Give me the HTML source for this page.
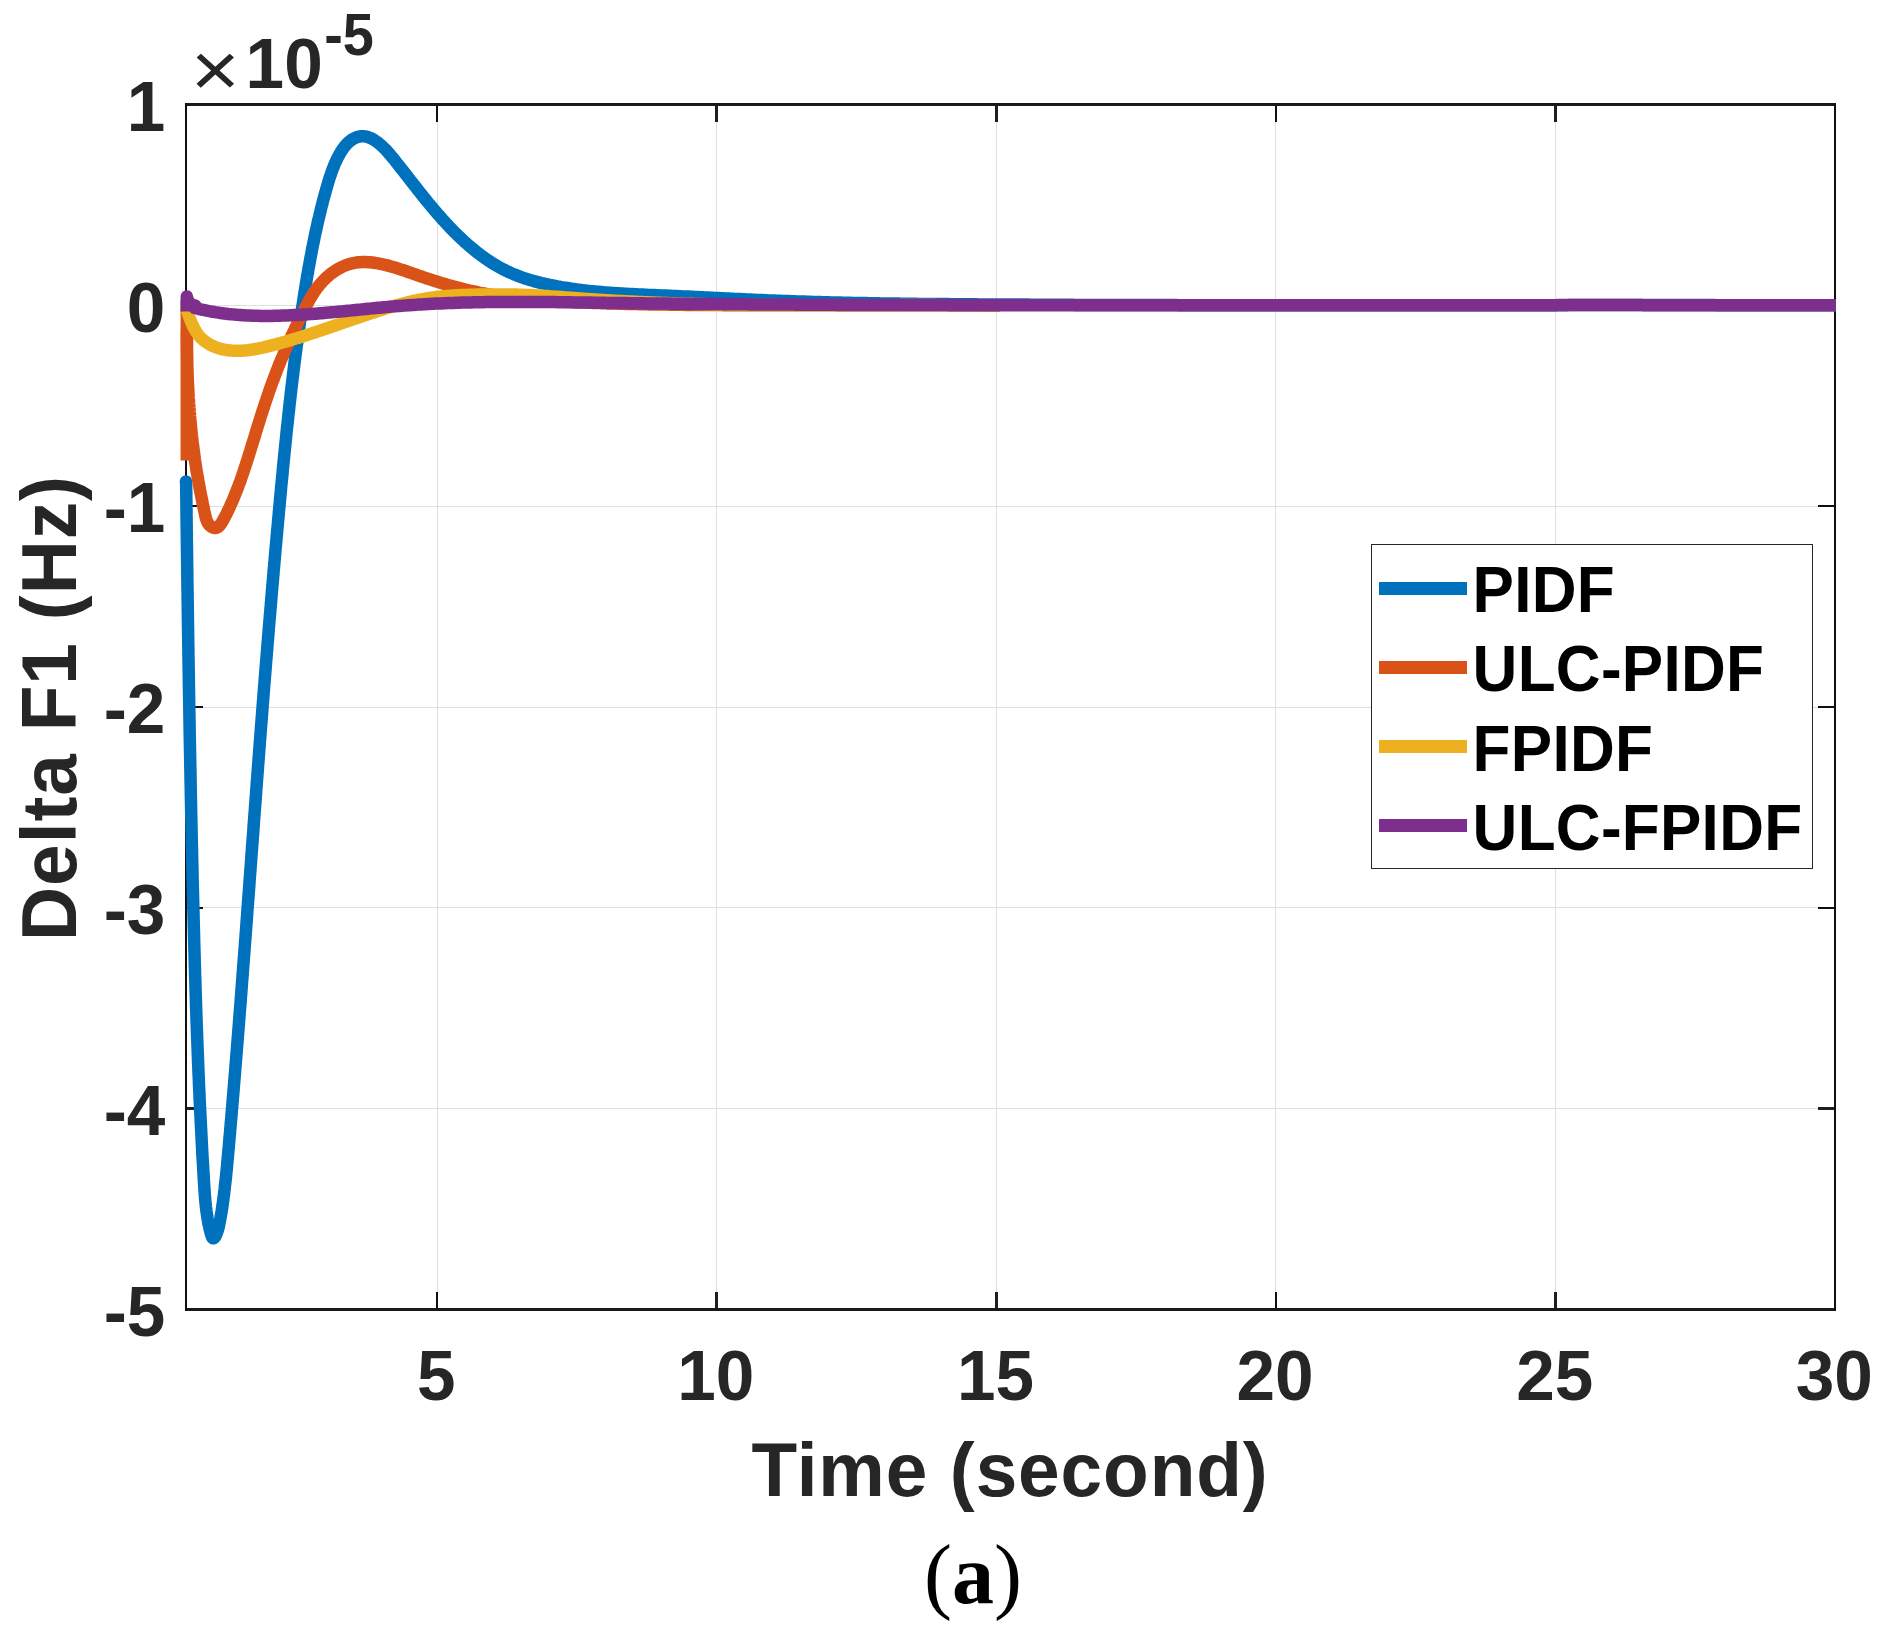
<!DOCTYPE html>
<html><head><meta charset="utf-8"><title>Delta F1</title>
<style>html,body{margin:0;padding:0;background:#fff}svg{display:block}</style></head>
<body>
<svg width="1892" height="1647" viewBox="0 0 1892 1647">
<rect width="1892" height="1647" fill="#fff"/>
<g fill="#dfdfdf" shape-rendering="crispEdges"><rect x="437" y="106" width="1" height="1202"/><rect x="716" y="106" width="1" height="1202"/><rect x="996" y="106" width="1" height="1202"/><rect x="1275" y="106" width="1" height="1202"/><rect x="1555" y="106" width="1" height="1202"/><rect x="187" y="305" width="1647" height="1"/><rect x="187" y="506" width="1647" height="1"/><rect x="187" y="707" width="1647" height="1"/><rect x="187" y="907" width="1647" height="1"/><rect x="187" y="1108" width="1647" height="1"/></g>
<g shape-rendering="crispEdges"><rect x="185" y="103" width="1651" height="3" fill="#1a1a1a"/><rect x="185" y="1308" width="1651" height="3" fill="#1a1a1a"/><rect x="185" y="103" width="2" height="1208" fill="#101010"/><rect x="1834" y="103" width="2" height="1208" fill="#101010"/></g>
<g shape-rendering="crispEdges"><rect x="436" y="1292" width="2" height="16" fill="#101010"/><rect x="436" y="106" width="2" height="16" fill="#101010"/><rect x="715" y="1292" width="3" height="16" fill="#1f1f1f"/><rect x="715" y="106" width="3" height="16" fill="#1f1f1f"/><rect x="995" y="1292" width="3" height="16" fill="#1f1f1f"/><rect x="995" y="106" width="3" height="16" fill="#1f1f1f"/><rect x="1275" y="1292" width="2" height="16" fill="#101010"/><rect x="1275" y="106" width="2" height="16" fill="#101010"/><rect x="1554" y="1292" width="3" height="16" fill="#1f1f1f"/><rect x="1554" y="106" width="3" height="16" fill="#1f1f1f"/><rect x="187" y="304" width="16" height="3" fill="#1f1f1f"/><rect x="1818" y="304" width="16" height="3" fill="#1f1f1f"/><rect x="187" y="505" width="16" height="2" fill="#101010"/><rect x="1818" y="505" width="16" height="2" fill="#101010"/><rect x="187" y="706" width="16" height="2" fill="#101010"/><rect x="1818" y="706" width="16" height="2" fill="#101010"/><rect x="187" y="907" width="16" height="2" fill="#101010"/><rect x="1818" y="907" width="16" height="2" fill="#101010"/><rect x="187" y="1107" width="16" height="3" fill="#1f1f1f"/><rect x="1818" y="1107" width="16" height="3" fill="#1f1f1f"/></g>
<path d="M186.1,481.0 L186.1,483.0 L186.2,485.0 L186.2,487.0 L186.2,489.0 L186.2,491.0 L186.3,493.0 L186.3,495.0 L186.3,497.0 L186.3,499.0 L186.4,501.0 L186.4,503.0 L186.4,505.0 L186.4,507.0 L186.5,509.0 L186.5,511.0 L186.5,513.0 L186.5,515.0 L186.6,517.0 L186.6,519.0 L186.6,521.0 L186.6,523.0 L186.7,525.0 L186.7,527.0 L186.7,529.0 L186.7,531.0 L186.8,533.0 L186.8,535.0 L186.8,537.0 L186.8,539.0 L186.9,541.0 L186.9,543.0 L186.9,545.0 L186.9,547.0 L187.0,549.0 L187.0,551.0 L187.0,553.0 L187.1,555.0 L187.1,557.0 L187.1,559.0 L187.1,561.0 L187.2,563.0 L187.2,565.0 L187.2,567.0 L187.2,569.0 L187.3,571.0 L187.3,573.0 L187.3,575.0 L187.3,577.0 L187.4,579.0 L187.4,581.0 L187.4,583.0 L187.4,585.0 L187.5,587.0 L187.5,589.0 L187.5,591.0 L187.6,593.0 L187.6,595.0 L187.6,597.0 L187.6,599.0 L187.7,601.0 L187.7,603.0 L187.7,605.0 L187.8,607.0 L187.8,609.0 L187.8,611.0 L187.8,613.0 L187.9,615.0 L187.9,617.0 L187.9,619.0 L187.9,621.0 L188.0,623.0 L188.0,625.0 L188.0,627.0 L188.1,629.0 L188.1,631.0 L188.1,633.0 L188.2,635.0 L188.2,637.0 L188.2,639.0 L188.2,641.0 L188.3,643.0 L188.3,645.0 L188.3,647.0 L188.4,649.0 L188.4,651.0 L188.4,653.0 L188.4,655.0 L188.5,657.0 L188.5,659.0 L188.5,661.0 L188.6,663.0 L188.6,665.0 L188.6,667.0 L188.7,669.0 L188.7,671.0 L188.7,673.0 L188.8,675.0 L188.8,677.0 L188.8,679.0 L188.8,681.0 L188.9,683.0 L188.9,685.0 L188.9,687.0 L189.0,689.0 L189.0,691.0 L189.0,693.0 L189.1,695.0 L189.1,697.0 L189.1,699.0 L189.2,701.0 L189.2,703.0 L189.2,705.0 L189.3,707.0 L189.3,709.0 L189.3,711.0 L189.4,713.0 L189.4,715.0 L189.4,717.0 L189.5,719.0 L189.5,721.0 L189.5,723.0 L189.6,725.0 L189.6,727.0 L189.6,729.0 L189.7,731.0 L189.7,733.0 L189.7,735.0 L189.8,737.0 L189.8,739.0 L189.8,741.0 L189.9,743.0 L189.9,745.0 L190.0,747.0 L190.0,749.0 L190.0,751.0 L190.1,753.0 L190.1,755.0 L190.1,757.0 L190.2,759.0 L190.2,761.0 L190.2,763.0 L190.3,765.0 L190.3,767.0 L190.4,769.0 L190.4,771.0 L190.4,773.0 L190.5,775.0 L190.5,777.0 L190.5,779.0 L190.6,781.0 L190.6,783.0 L190.7,785.0 L190.7,787.0 L190.7,789.0 L190.8,791.0 L190.8,793.0 L190.8,795.0 L190.9,797.0 L190.9,799.0 L191.0,801.0 L191.0,803.0 L191.0,805.0 L191.1,807.0 L191.1,809.0 L191.2,811.0 L191.2,813.0 L191.2,815.0 L191.3,817.0 L191.3,818.9 L191.4,820.9 L191.4,822.9 L191.5,824.9 L191.5,826.9 L191.5,828.9 L191.6,830.9 L191.6,832.9 L191.7,834.9 L191.7,836.9 L191.7,838.9 L191.8,840.9 L191.8,842.9 L191.9,844.9 L191.9,846.9 L192.0,848.9 L192.0,850.9 L192.1,852.9 L192.1,854.9 L192.1,856.9 L192.2,858.9 L192.2,860.9 L192.3,862.9 L192.3,864.9 L192.4,866.9 L192.4,868.9 L192.5,870.9 L192.5,872.9 L192.5,874.9 L192.6,876.9 L192.6,878.9 L192.7,880.9 L192.7,882.9 L192.8,884.9 L192.8,886.9 L192.9,888.9 L192.9,890.9 L193.0,892.9 L193.0,894.9 L193.1,896.9 L193.1,898.9 L193.2,900.9 L193.2,902.9 L193.3,904.9 L193.3,906.9 L193.4,908.9 L193.4,910.9 L193.5,912.9 L193.5,914.9 L193.6,916.9 L193.6,918.9 L193.7,920.9 L193.7,922.9 L193.8,924.9 L193.8,926.9 L193.9,928.9 L193.9,930.9 L194.0,932.9 L194.0,934.9 L194.1,936.9 L194.1,938.9 L194.2,940.9 L194.2,942.9 L194.3,944.9 L194.3,946.9 L194.4,948.9 L194.4,950.9 L194.5,952.9 L194.6,954.9 L194.6,956.9 L194.7,958.9 L194.7,960.9 L194.8,962.9 L194.8,964.9 L194.9,966.9 L195.0,968.9 L195.0,970.9 L195.1,972.9 L195.1,974.9 L195.2,976.9 L195.2,978.9 L195.3,980.9 L195.4,982.9 L195.4,984.9 L195.5,986.9 L195.5,988.9 L195.6,990.9 L195.7,992.9 L195.7,994.9 L195.8,996.9 L195.9,998.9 L195.9,1000.9 L196.0,1002.9 L196.0,1004.9 L196.1,1006.9 L196.2,1008.9 L196.2,1010.9 L196.3,1012.9 L196.4,1014.9 L196.4,1016.9 L196.5,1018.9 L196.6,1020.9 L196.6,1022.9 L196.7,1024.9 L196.8,1026.9 L196.9,1028.9 L196.9,1030.9 L197.0,1032.9 L197.1,1034.9 L197.1,1036.9 L197.2,1038.9 L197.3,1040.9 L197.4,1042.9 L197.4,1044.9 L197.5,1046.9 L197.6,1048.9 L197.7,1050.9 L197.7,1052.9 L197.8,1054.9 L197.9,1056.9 L198.0,1058.9 L198.0,1060.9 L198.1,1062.9 L198.2,1064.9 L198.3,1066.9 L198.4,1068.9 L198.4,1070.9 L198.5,1072.8 L198.6,1074.8 L198.7,1076.8 L198.8,1078.8 L198.9,1080.8 L198.9,1082.8 L199.0,1084.8 L199.1,1086.8 L199.2,1088.8 L199.3,1090.8 L199.4,1092.8 L199.5,1094.8 L199.5,1096.8 L199.6,1098.8 L199.7,1100.8 L199.8,1102.8 L199.9,1104.8 L200.0,1106.8 L200.1,1108.8 L200.2,1110.8 L200.3,1112.8 L200.4,1114.8 L200.5,1116.8 L200.6,1118.8 L200.7,1120.8 L200.8,1122.8 L200.9,1124.8 L201.0,1126.8 L201.1,1128.8 L201.2,1130.8 L201.3,1132.8 L201.4,1134.8 L201.5,1136.8 L201.6,1138.8 L201.7,1140.7 L201.8,1142.7 L201.9,1144.7 L202.0,1146.7 L202.1,1148.7 L202.2,1150.7 L202.3,1152.7 L202.4,1154.7 L202.5,1156.7 L202.6,1158.7 L202.8,1160.7 L202.9,1162.7 L203.0,1164.7 L203.1,1166.7 L203.2,1168.7 L203.3,1170.7 L203.4,1172.7 L203.6,1174.7 L203.7,1176.7 L203.8,1178.7 L203.9,1180.7 L204.0,1182.7 L204.2,1184.7 L204.3,1186.7 L204.4,1188.7 L204.5,1190.7 L204.7,1192.7 L204.8,1194.7 L205.0,1196.7 L205.1,1198.7 L205.3,1200.7 L205.5,1202.7 L205.7,1204.7 L205.9,1206.7 L206.2,1208.7 L206.4,1210.7 L206.7,1212.7 L207.0,1214.7 L207.3,1216.7 L207.6,1218.7 L208.0,1220.7 L208.3,1222.7 L208.7,1224.7 L209.2,1226.7 L209.6,1228.7 L210.1,1230.7 L210.6,1232.7 L211.2,1234.6 L211.7,1236.4 L212.4,1237.6 L213.1,1238.3 L214.0,1238.1 L214.8,1237.2 L215.7,1235.7 L216.5,1234.0 L217.2,1232.1 L217.9,1230.0 L218.5,1227.9 L219.0,1225.8 L219.4,1223.6 L219.8,1221.4 L220.3,1219.2 L220.6,1217.1 L221.0,1215.0 L221.3,1213.0 L221.7,1211.0 L222.0,1209.0 L222.3,1207.0 L222.6,1205.0 L222.8,1203.0 L223.1,1201.1 L223.4,1199.1 L223.6,1197.2 L223.9,1195.2 L224.1,1193.3 L224.3,1191.3 L224.6,1189.4 L224.8,1187.4 L225.0,1185.4 L225.2,1183.5 L225.5,1181.5 L225.7,1179.5 L225.9,1177.6 L226.1,1175.6 L226.3,1173.6 L226.5,1171.6 L226.7,1169.6 L226.9,1167.6 L227.1,1165.7 L227.2,1163.7 L227.4,1161.7 L227.6,1159.7 L227.8,1157.7 L228.0,1155.7 L228.1,1153.7 L228.3,1151.7 L228.5,1149.7 L228.7,1147.7 L228.9,1145.7 L229.0,1143.7 L229.2,1141.7 L229.4,1139.7 L229.5,1137.7 L229.7,1135.8 L229.9,1133.8 L230.1,1131.8 L230.2,1129.8 L230.4,1127.8 L230.6,1125.8 L230.7,1123.8 L230.9,1121.8 L231.1,1119.8 L231.3,1117.8 L231.4,1115.8 L231.6,1113.8 L231.8,1111.8 L231.9,1109.8 L232.1,1107.8 L232.3,1105.8 L232.4,1103.8 L232.6,1101.8 L232.8,1099.8 L232.9,1097.9 L233.1,1095.9 L233.3,1093.9 L233.4,1091.9 L233.6,1089.9 L233.8,1087.9 L233.9,1085.9 L234.1,1083.9 L234.2,1081.9 L234.4,1079.9 L234.6,1077.9 L234.7,1075.9 L234.9,1073.9 L235.1,1071.9 L235.2,1069.9 L235.4,1067.9 L235.5,1065.9 L235.7,1063.9 L235.9,1062.0 L236.0,1060.0 L236.2,1058.0 L236.3,1056.0 L236.5,1054.0 L236.7,1052.0 L236.8,1050.0 L237.0,1048.0 L237.1,1046.0 L237.3,1044.0 L237.5,1042.0 L237.6,1040.0 L237.8,1038.0 L237.9,1036.0 L238.1,1034.0 L238.2,1032.0 L238.4,1030.0 L238.6,1028.0 L238.7,1026.1 L238.9,1024.1 L239.0,1022.1 L239.2,1020.1 L239.3,1018.1 L239.5,1016.1 L239.6,1014.1 L239.8,1012.1 L239.9,1010.1 L240.1,1008.1 L240.3,1006.1 L240.4,1004.1 L240.6,1002.1 L240.7,1000.1 L240.9,998.1 L241.0,996.1 L241.2,994.1 L241.3,992.1 L241.5,990.2 L241.6,988.2 L241.8,986.2 L241.9,984.2 L242.1,982.2 L242.2,980.2 L242.4,978.2 L242.5,976.2 L242.7,974.2 L242.8,972.2 L243.0,970.2 L243.1,968.2 L243.3,966.2 L243.4,964.2 L243.6,962.2 L243.7,960.2 L243.9,958.2 L244.0,956.2 L244.2,954.3 L244.3,952.3 L244.5,950.3 L244.6,948.3 L244.8,946.3 L244.9,944.3 L245.1,942.3 L245.2,940.3 L245.4,938.3 L245.5,936.3 L245.7,934.3 L245.8,932.3 L246.0,930.3 L246.1,928.3 L246.3,926.3 L246.4,924.3 L246.6,922.3 L246.7,920.4 L246.9,918.4 L247.0,916.4 L247.2,914.4 L247.3,912.4 L247.4,910.4 L247.6,908.4 L247.7,906.4 L247.9,904.4 L248.0,902.4 L248.2,900.4 L248.3,898.4 L248.5,896.4 L248.6,894.4 L248.8,892.4 L248.9,890.4 L249.1,888.4 L249.2,886.5 L249.4,884.5 L249.5,882.5 L249.6,880.5 L249.8,878.5 L249.9,876.5 L250.1,874.5 L250.2,872.5 L250.4,870.5 L250.5,868.5 L250.7,866.5 L250.8,864.5 L251.0,862.5 L251.1,860.5 L251.3,858.5 L251.4,856.5 L251.5,854.5 L251.7,852.6 L251.8,850.6 L252.0,848.6 L252.1,846.6 L252.3,844.6 L252.4,842.6 L252.6,840.6 L252.7,838.6 L252.9,836.6 L253.0,834.6 L253.2,832.6 L253.3,830.6 L253.5,828.6 L253.6,826.6 L253.7,824.6 L253.9,822.6 L254.0,820.6 L254.2,818.7 L254.3,816.7 L254.5,814.7 L254.6,812.7 L254.8,810.7 L254.9,808.7 L255.1,806.7 L255.2,804.7 L255.4,802.7 L255.5,800.7 L255.7,798.7 L255.8,796.7 L256.0,794.7 L256.1,792.7 L256.2,790.7 L256.4,788.7 L256.5,786.7 L256.7,784.8 L256.8,782.8 L257.0,780.8 L257.1,778.8 L257.3,776.8 L257.4,774.8 L257.6,772.8 L257.7,770.8 L257.9,768.8 L258.0,766.8 L258.2,764.8 L258.3,762.8 L258.5,760.8 L258.6,758.8 L258.8,756.8 L258.9,754.8 L259.1,752.8 L259.2,750.9 L259.4,748.9 L259.5,746.9 L259.7,744.9 L259.8,742.9 L260.0,740.9 L260.1,738.9 L260.3,736.9 L260.4,734.9 L260.6,732.9 L260.7,730.9 L260.9,728.9 L261.0,726.9 L261.2,724.9 L261.4,722.9 L261.5,720.9 L261.7,718.9 L261.8,716.9 L262.0,715.0 L262.1,713.0 L262.3,711.0 L262.4,709.0 L262.6,707.0 L262.7,705.0 L262.9,703.0 L263.0,701.0 L263.2,699.0 L263.4,697.0 L263.5,695.0 L263.7,693.0 L263.8,691.0 L264.0,689.0 L264.1,687.0 L264.3,685.0 L264.5,683.0 L264.6,681.0 L264.8,679.1 L264.9,677.1 L265.1,675.1 L265.2,673.1 L265.4,671.1 L265.6,669.1 L265.7,667.1 L265.9,665.1 L266.0,663.1 L266.2,661.1 L266.4,659.1 L266.5,657.1 L266.7,655.1 L266.8,653.1 L267.0,651.1 L267.2,649.1 L267.3,647.1 L267.5,645.2 L267.6,643.2 L267.8,641.2 L268.0,639.2 L268.1,637.2 L268.3,635.2 L268.5,633.2 L268.6,631.2 L268.8,629.2 L268.9,627.2 L269.1,625.2 L269.3,623.2 L269.4,621.2 L269.6,619.2 L269.8,617.2 L269.9,615.2 L270.1,613.3 L270.3,611.3 L270.4,609.3 L270.6,607.3 L270.8,605.3 L270.9,603.3 L271.1,601.3 L271.3,599.3 L271.4,597.3 L271.6,595.3 L271.8,593.3 L271.9,591.3 L272.1,589.3 L272.3,587.3 L272.4,585.3 L272.6,583.3 L272.8,581.4 L273.0,579.4 L273.1,577.4 L273.3,575.4 L273.5,573.4 L273.6,571.4 L273.8,569.4 L274.0,567.4 L274.2,565.4 L274.3,563.4 L274.5,561.4 L274.7,559.4 L274.8,557.4 L275.0,555.4 L275.2,553.5 L275.4,551.5 L275.5,549.5 L275.7,547.5 L275.9,545.5 L276.1,543.5 L276.3,541.5 L276.4,539.5 L276.6,537.5 L276.8,535.5 L277.0,533.5 L277.1,531.5 L277.3,529.5 L277.5,527.6 L277.7,525.6 L277.9,523.6 L278.0,521.6 L278.2,519.6 L278.4,517.6 L278.6,515.6 L278.8,513.6 L278.9,511.6 L279.1,509.6 L279.3,507.6 L279.5,505.7 L279.7,503.7 L279.9,501.7 L280.0,499.7 L280.2,497.7 L280.4,495.7 L280.6,493.7 L280.8,491.7 L281.0,489.7 L281.1,487.7 L281.3,485.7 L281.5,483.8 L281.7,481.8 L281.9,479.8 L282.1,477.8 L282.3,475.8 L282.5,473.8 L282.7,471.8 L282.8,469.8 L283.0,467.8 L283.2,465.8 L283.4,463.9 L283.6,461.9 L283.8,459.9 L284.0,457.9 L284.2,455.9 L284.4,453.9 L284.6,451.9 L284.8,449.9 L285.0,447.9 L285.2,446.0 L285.4,444.0 L285.6,442.0 L285.8,440.0 L286.0,438.0 L286.2,436.0 L286.4,434.0 L286.6,432.0 L286.8,430.0 L287.0,428.1 L287.2,426.1 L287.5,424.1 L287.7,422.1 L287.9,420.1 L288.1,418.1 L288.3,416.1 L288.5,414.1 L288.7,412.2 L289.0,410.2 L289.2,408.2 L289.4,406.2 L289.6,404.2 L289.8,402.2 L290.1,400.2 L290.3,398.2 L290.5,396.3 L290.7,394.3 L291.0,392.3 L291.2,390.3 L291.4,388.3 L291.7,386.3 L291.9,384.3 L292.1,382.4 L292.4,380.4 L292.6,378.4 L292.9,376.4 L293.1,374.4 L293.3,372.4 L293.6,370.5 L293.8,368.5 L294.1,366.5 L294.3,364.5 L294.6,362.5 L294.8,360.5 L295.1,358.5 L295.3,356.6 L295.6,354.6 L295.8,352.6 L296.1,350.6 L296.4,348.6 L296.6,346.6 L296.9,344.7 L297.2,342.7 L297.4,340.7 L297.7,338.7 L298.0,336.7 L298.2,334.8 L298.5,332.8 L298.8,330.8 L299.1,328.8 L299.4,326.8 L299.6,324.8 L299.9,322.9 L300.2,320.9 L300.5,318.9 L300.8,316.9 L301.1,314.9 L301.4,313.0 L301.7,311.0 L302.0,309.0 L302.3,307.0 L302.6,305.0 L302.9,303.1 L303.2,301.1 L303.5,299.1 L303.8,297.1 L304.1,295.1 L304.4,293.2 L304.7,291.2 L305.1,289.2 L305.4,287.2 L305.7,285.3 L306.0,283.3 L306.4,281.3 L306.7,279.3 L307.0,277.3 L307.4,275.4 L307.7,273.4 L308.1,271.4 L308.4,269.4 L308.7,267.5 L309.1,265.5 L309.5,263.5 L309.8,261.6 L310.2,259.6 L310.5,257.6 L310.9,255.7 L311.3,253.7 L311.7,251.7 L312.0,249.8 L312.4,247.8 L312.8,245.8 L313.2,243.9 L313.6,241.9 L314.0,239.9 L314.4,238.0 L314.8,236.0 L315.2,234.1 L315.6,232.1 L316.1,230.2 L316.5,228.2 L316.9,226.3 L317.4,224.3 L317.8,222.4 L318.2,220.4 L318.7,218.5 L319.2,216.6 L319.6,214.6 L320.1,212.7 L320.6,210.8 L321.0,208.8 L321.5,206.9 L322.0,205.0 L322.5,203.1 L323.0,201.1 L323.5,199.2 L324.0,197.3 L324.5,195.4 L325.1,193.5 L325.6,191.6 L326.1,189.6 L326.7,187.7 L327.2,185.8 L327.8,183.9 L328.3,182.0 L328.9,180.1 L329.5,178.2 L330.1,176.3 L330.8,174.5 L331.4,172.6 L332.1,170.7 L332.8,168.8 L333.6,166.9 L334.3,165.0 L335.1,163.1 L336.0,161.2 L336.9,159.3 L337.8,157.5 L338.8,155.6 L339.8,153.8 L340.8,152.0 L342.0,150.2 L343.1,148.5 L344.3,146.9 L345.6,145.4 L346.9,143.9 L348.3,142.5 L349.7,141.3 L351.2,140.1 L352.8,139.1 L354.4,138.2 L356.1,137.5 L357.8,136.9 L359.6,136.5 L361.4,136.3 L363.3,136.2 L365.1,136.4 L367.0,136.8 L368.9,137.4 L370.8,138.2 L372.6,139.1 L374.5,140.2 L376.3,141.5 L378.0,142.7 L379.6,144.0 L381.2,145.4 L382.7,146.8 L384.2,148.2 L385.6,149.6 L387.0,151.1 L388.3,152.6 L389.6,154.1 L390.9,155.6 L392.2,157.2 L393.4,158.7 L394.7,160.2 L395.9,161.8 L397.1,163.3 L398.4,164.9 L399.6,166.5 L400.8,168.0 L402.1,169.6 L403.3,171.2 L404.5,172.7 L405.7,174.3 L407.0,175.9 L408.2,177.4 L409.4,179.0 L410.6,180.6 L411.9,182.2 L413.1,183.7 L414.3,185.3 L415.6,186.9 L416.8,188.4 L418.0,190.0 L419.3,191.6 L420.5,193.1 L421.8,194.7 L423.0,196.3 L424.3,197.8 L425.5,199.4 L426.8,200.9 L428.0,202.5 L429.3,204.0 L430.6,205.6 L431.9,207.1 L433.2,208.6 L434.4,210.2 L435.7,211.7 L437.0,213.2 L438.4,214.7 L439.7,216.2 L441.0,217.7 L442.3,219.2 L443.7,220.7 L445.0,222.2 L446.4,223.6 L447.7,225.1 L449.1,226.6 L450.5,228.0 L451.9,229.4 L453.3,230.9 L454.7,232.3 L456.1,233.7 L457.5,235.1 L459.0,236.5 L460.4,237.9 L461.9,239.3 L463.4,240.6 L464.8,242.0 L466.3,243.3 L467.8,244.6 L469.4,246.0 L470.9,247.3 L472.4,248.6 L474.0,249.8 L475.6,251.1 L477.1,252.3 L478.7,253.6 L480.3,254.8 L481.9,256.0 L483.6,257.2 L485.2,258.3 L486.9,259.5 L488.5,260.6 L490.2,261.7 L491.9,262.8 L493.6,263.8 L495.3,264.9 L497.0,265.9 L498.7,266.9 L500.5,267.9 L502.2,268.8 L504.0,269.7 L505.8,270.6 L507.6,271.5 L509.4,272.3 L511.2,273.1 L513.0,273.9 L514.9,274.7 L516.7,275.4 L518.6,276.1 L520.5,276.8 L522.3,277.5 L524.2,278.2 L526.1,278.8 L528.0,279.4 L529.9,280.0 L531.8,280.5 L533.8,281.1 L535.7,281.6 L537.6,282.1 L539.6,282.6 L541.5,283.1 L543.5,283.5 L545.4,284.0 L547.4,284.4 L549.3,284.8 L551.3,285.2 L553.3,285.6 L555.3,286.0 L557.2,286.4 L559.2,286.7 L561.2,287.1 L563.1,287.4 L565.1,287.7 L567.1,288.0 L569.1,288.3 L571.0,288.6 L573.0,288.9 L575.0,289.2 L577.0,289.5 L579.0,289.7 L581.0,290.0 L582.9,290.2 L584.9,290.4 L586.9,290.7 L588.9,290.9 L590.9,291.1 L592.9,291.3 L594.9,291.5 L596.8,291.7 L598.8,291.8 L600.8,292.0 L602.8,292.2 L604.8,292.4 L606.8,292.5 L608.8,292.7 L610.8,292.8 L612.8,292.9 L614.8,293.1 L616.8,293.2 L618.8,293.3 L620.8,293.5 L622.8,293.6 L624.8,293.7 L626.8,293.8 L628.7,293.9 L630.7,294.0 L632.7,294.1 L634.7,294.2 L636.7,294.3 L638.7,294.4 L640.7,294.5 L642.7,294.6 L644.7,294.7 L646.7,294.8 L648.7,294.9 L650.7,295.0 L652.7,295.0 L654.7,295.1 L656.7,295.2 L658.7,295.3 L660.7,295.4 L662.7,295.5 L664.7,295.6 L666.7,295.6 L668.7,295.7 L670.7,295.8 L672.7,295.9 L674.7,296.0 L676.7,296.1 L678.7,296.2 L680.7,296.3 L682.7,296.4 L684.7,296.5 L686.7,296.6 L688.7,296.6 L690.7,296.7 L692.7,296.8 L694.7,296.9 L696.7,297.0 L698.7,297.1 L700.7,297.2 L702.7,297.3 L704.7,297.4 L706.7,297.5 L708.7,297.6 L710.7,297.7 L712.7,297.8 L714.7,297.9 L716.7,298.0 L718.7,298.1 L720.7,298.2 L722.7,298.3 L724.7,298.4 L726.7,298.5 L728.7,298.6 L730.7,298.7 L732.7,298.8 L734.7,298.9 L736.7,298.9 L738.7,299.0 L740.7,299.1 L742.7,299.2 L744.7,299.3 L746.7,299.4 L748.7,299.5 L750.7,299.6 L752.7,299.7 L754.7,299.8 L756.7,299.9 L758.7,299.9 L760.7,300.0 L762.7,300.1 L764.7,300.2 L766.6,300.3 L768.6,300.4 L770.6,300.4 L772.6,300.5 L774.6,300.6 L776.6,300.7 L778.6,300.8 L780.6,300.8 L782.6,300.9 L784.6,301.0 L786.6,301.0 L788.6,301.1 L790.6,301.2 L792.6,301.3 L794.6,301.3 L796.6,301.4 L798.6,301.5 L800.6,301.5 L802.6,301.6 L804.6,301.6 L806.6,301.7 L808.6,301.8 L810.6,301.8 L812.6,301.9 L814.6,301.9 L816.6,302.0 L818.6,302.1 L820.6,302.1 L822.6,302.2 L824.6,302.2 L826.6,302.3 L828.6,302.3 L830.6,302.4 L832.6,302.4 L834.6,302.5 L836.6,302.5 L838.6,302.6 L840.6,302.6 L842.6,302.7 L844.6,302.7 L846.6,302.7 L848.6,302.8 L850.6,302.8 L852.6,302.9 L854.6,302.9 L856.6,302.9 L858.6,303.0 L860.6,303.0 L862.6,303.1 L864.6,303.1 L866.6,303.1 L868.6,303.2 L870.6,303.2 L872.6,303.2 L874.6,303.3 L876.6,303.3 L878.6,303.3 L880.6,303.4 L882.6,303.4 L884.6,303.4 L886.6,303.5 L888.6,303.5 L890.6,303.5 L892.6,303.6 L894.6,303.6 L896.6,303.6 L898.6,303.6 L900.6,303.7 L902.6,303.7 L904.6,303.7 L906.6,303.7 L908.6,303.8 L910.6,303.8 L912.6,303.8 L914.6,303.8 L916.6,303.8 L918.6,303.9 L920.6,303.9 L922.6,303.9 L924.6,303.9 L926.6,304.0 L928.6,304.0 L930.6,304.0 L932.6,304.0 L934.6,304.0 L936.6,304.0 L938.6,304.1 L940.6,304.1 L942.6,304.1 L944.6,304.1 L946.6,304.1 L948.6,304.1 L950.6,304.2 L952.6,304.2 L954.6,304.2 L956.6,304.2 L958.6,304.2 L960.6,304.2 L962.6,304.3 L964.6,304.3 L966.6,304.3 L968.6,304.3 L970.6,304.3 L972.6,304.3 L974.6,304.3 L976.6,304.3 L978.6,304.4 L980.6,304.4 L982.6,304.4 L984.6,304.4 L986.6,304.4 L988.6,304.4 L990.6,304.4 L992.6,304.4 L994.6,304.5 L996.6,304.5 L998.6,304.5 L1000.6,304.5 L1002.6,304.5 L1004.6,304.5 L1006.6,304.5 L1008.6,304.5 L1010.6,304.5 L1012.6,304.6 L1014.6,304.6 L1016.6,304.6 L1018.6,304.6 L1020.6,304.6 L1022.6,304.6 L1024.6,304.6 L1026.6,304.6 L1028.6,304.6 L1030.6,304.7 L1032.6,304.7 L1034.6,304.7 L1036.6,304.7 L1038.6,304.7 L1040.6,304.7 L1042.6,304.7 L1044.6,304.7 L1046.6,304.7 L1048.6,304.7 L1050.6,304.7 L1052.6,304.8 L1054.6,304.8 L1056.6,304.8 L1058.6,304.8 L1060.6,304.8 L1062.6,304.8 L1064.6,304.8 L1066.6,304.8 L1068.6,304.8 L1070.6,304.8 L1072.6,304.8 L1074.6,304.9 L1076.6,304.9 L1078.6,304.9 L1080.6,304.9 L1082.6,304.9 L1084.6,304.9 L1086.6,304.9 L1088.6,304.9 L1090.6,304.9 L1092.6,304.9 L1094.6,304.9 L1096.6,304.9 L1098.6,304.9 L1100.6,304.9 L1102.6,305.0 L1104.6,305.0 L1106.6,305.0 L1108.6,305.0 L1110.6,305.0 L1112.6,305.0 L1114.6,305.0 L1116.6,305.0 L1118.6,305.0 L1120.6,305.0 L1122.6,305.0 L1124.6,305.0 L1126.6,305.0 L1128.6,305.0 L1130.6,305.0 L1132.6,305.0 L1134.6,305.0 L1136.6,305.1 L1138.6,305.1 L1140.6,305.1 L1142.6,305.1 L1144.6,305.1 L1146.6,305.1 L1148.6,305.1 L1150.6,305.1 L1152.6,305.1 L1154.6,305.1 L1156.6,305.1 L1158.6,305.1 L1160.6,305.1 L1162.6,305.1 L1164.6,305.1 L1166.6,305.1 L1168.6,305.1 L1170.6,305.1 L1172.6,305.1 L1174.6,305.1 L1176.6,305.1 L1178.6,305.2 L1180.6,305.2 L1182.6,305.2 L1184.6,305.2 L1186.6,305.2 L1188.6,305.2 L1190.6,305.2 L1192.6,305.2 L1194.6,305.2 L1196.6,305.2 L1198.6,305.2 L1200.6,305.2 L1202.6,305.2 L1204.6,305.2 L1206.6,305.2 L1208.6,305.2 L1210.6,305.2 L1212.6,305.2 L1214.6,305.2 L1216.6,305.2 L1218.6,305.2 L1220.6,305.2 L1222.6,305.2 L1224.6,305.2 L1226.6,305.2 L1228.6,305.2 L1230.6,305.2 L1232.6,305.2 L1234.6,305.2 L1236.6,305.2 L1238.6,305.2 L1240.6,305.2 L1242.6,305.2 L1244.6,305.2 L1246.6,305.2 L1248.6,305.2 L1250.6,305.2 L1252.6,305.2 L1254.6,305.3 L1256.6,305.3 L1258.6,305.3 L1260.6,305.3 L1262.6,305.3 L1264.6,305.3 L1266.6,305.3 L1268.6,305.3 L1270.6,305.3 L1272.6,305.3 L1274.6,305.3 L1276.6,305.3 L1278.6,305.3 L1280.6,305.3 L1282.6,305.3 L1284.6,305.3 L1286.6,305.3 L1288.6,305.3 L1290.6,305.3 L1292.6,305.3 L1294.6,305.3 L1296.6,305.3 L1298.6,305.3 L1300.6,305.3 L1302.6,305.3 L1304.6,305.3 L1306.6,305.3 L1308.6,305.3 L1310.6,305.3 L1312.6,305.3 L1314.6,305.3 L1316.6,305.3 L1318.6,305.3 L1320.6,305.3 L1322.6,305.3 L1324.6,305.3 L1326.6,305.3 L1328.6,305.3 L1330.6,305.3 L1332.6,305.3 L1334.6,305.3 L1336.6,305.3 L1338.6,305.3 L1340.6,305.3 L1342.6,305.3 L1344.6,305.3 L1346.6,305.3 L1348.6,305.3 L1350.6,305.3 L1352.6,305.3 L1354.6,305.3 L1356.6,305.3 L1358.6,305.3 L1360.6,305.3 L1362.6,305.3 L1364.6,305.3 L1366.6,305.3 L1368.6,305.3 L1370.6,305.3 L1372.6,305.3 L1374.6,305.3 L1376.6,305.3 L1378.6,305.3 L1380.6,305.3 L1382.6,305.3 L1384.6,305.3 L1386.6,305.3 L1388.6,305.3 L1390.6,305.3 L1392.6,305.3 L1394.6,305.3 L1396.6,305.3 L1398.6,305.3 L1400.6,305.3 L1402.6,305.3 L1404.6,305.3 L1406.6,305.3 L1408.6,305.3 L1410.6,305.3 L1412.6,305.2 L1414.6,305.2 L1416.6,305.2 L1418.6,305.2 L1420.6,305.2 L1422.6,305.2 L1424.6,305.2 L1426.6,305.2 L1428.6,305.2 L1430.6,305.2 L1432.6,305.2 L1434.6,305.2 L1436.6,305.2 L1438.6,305.2 L1440.6,305.2 L1442.6,305.2 L1444.6,305.2 L1446.6,305.2 L1448.6,305.2 L1450.6,305.2 L1452.6,305.2 L1454.6,305.2 L1456.6,305.2 L1458.6,305.2 L1460.6,305.2 L1462.6,305.2 L1464.6,305.2 L1466.6,305.2 L1468.6,305.2 L1470.6,305.2 L1472.6,305.2 L1474.6,305.2 L1476.6,305.2 L1478.6,305.2 L1480.6,305.2 L1482.6,305.2 L1484.6,305.2 L1486.6,305.2 L1488.6,305.2 L1490.6,305.2 L1492.6,305.2 L1494.6,305.2 L1496.6,305.2 L1498.6,305.2 L1500.6,305.2 L1502.6,305.2 L1504.6,305.2 L1506.6,305.2 L1508.6,305.2 L1510.6,305.2 L1512.6,305.2 L1514.6,305.2 L1516.6,305.2 L1518.6,305.2 L1520.6,305.2 L1522.6,305.2 L1524.6,305.2 L1526.6,305.2 L1528.6,305.2 L1530.6,305.2 L1532.6,305.2 L1534.6,305.2 L1536.6,305.2 L1538.6,305.2 L1540.6,305.2 L1542.6,305.2 L1544.6,305.2 L1546.6,305.2 L1548.6,305.2 L1550.6,305.2 L1552.6,305.2 L1554.6,305.2 L1556.6,305.2 L1558.6,305.2 L1560.6,305.2 L1562.6,305.2 L1564.6,305.2 L1566.6,305.2 L1568.6,305.1 L1570.6,305.1 L1572.6,305.1 L1574.6,305.1 L1576.6,305.1 L1578.6,305.1 L1580.6,305.1 L1582.6,305.1 L1584.6,305.1 L1586.6,305.1 L1588.6,305.1 L1590.6,305.1 L1592.6,305.1 L1594.6,305.1 L1596.6,305.1 L1598.6,305.1 L1600.6,305.1 L1602.6,305.1 L1604.6,305.1 L1606.6,305.1 L1608.6,305.1 L1610.6,305.1 L1612.6,305.1 L1614.6,305.1 L1616.6,305.1 L1618.6,305.1 L1620.6,305.1 L1622.6,305.1 L1624.6,305.1 L1626.6,305.1 L1628.6,305.1 L1630.6,305.1 L1632.6,305.1 L1634.6,305.1 L1636.6,305.1 L1638.6,305.1 L1640.6,305.1 L1642.6,305.1 L1644.6,305.1 L1646.6,305.1 L1648.6,305.1 L1650.6,305.1 L1652.6,305.1 L1654.6,305.1 L1656.6,305.1 L1658.6,305.1 L1660.6,305.1 L1662.6,305.1 L1664.6,305.1 L1666.6,305.1 L1668.6,305.1 L1670.6,305.1 L1672.6,305.1 L1674.6,305.1 L1676.6,305.1 L1678.6,305.1 L1680.6,305.1 L1682.6,305.1 L1684.6,305.1 L1686.6,305.1 L1688.6,305.1 L1690.6,305.1 L1692.6,305.1 L1694.6,305.1 L1696.6,305.1 L1698.6,305.1 L1700.6,305.1 L1702.6,305.1 L1704.6,305.1 L1706.6,305.1 L1708.6,305.1 L1710.6,305.1 L1712.6,305.1 L1714.6,305.1 L1716.6,305.2 L1718.6,305.2 L1720.6,305.2 L1722.6,305.2 L1724.6,305.2 L1726.6,305.2 L1728.6,305.2 L1730.6,305.2 L1732.6,305.2 L1734.6,305.2 L1736.6,305.2 L1738.6,305.2 L1740.6,305.2 L1742.6,305.2 L1744.6,305.2 L1746.6,305.2 L1748.6,305.2 L1750.6,305.2 L1752.6,305.2 L1754.6,305.2 L1756.6,305.2 L1758.6,305.2 L1760.6,305.2 L1762.6,305.2 L1764.6,305.2 L1766.6,305.2 L1768.6,305.2 L1770.6,305.2 L1772.6,305.2 L1774.6,305.2 L1776.6,305.2 L1778.6,305.2 L1780.6,305.2 L1782.6,305.2 L1784.6,305.2 L1786.6,305.2 L1788.6,305.2 L1790.6,305.2 L1792.6,305.2 L1794.6,305.3 L1796.6,305.3 L1798.6,305.3 L1800.6,305.3 L1802.6,305.3 L1804.6,305.3 L1806.6,305.3 L1808.6,305.3 L1810.6,305.3 L1812.6,305.3 L1814.6,305.3 L1816.6,305.3 L1818.6,305.3 L1820.6,305.3 L1822.6,305.3 L1824.6,305.3 L1826.6,305.3 L1828.6,305.3 L1830.6,305.3 L1832.6,305.3 L1834.6,305.3 L1836.0,305.3" stroke="#0072BD" stroke-width="12.5" fill="none" stroke-linejoin="round" />
<circle cx="186" cy="481.5" r="6.25" fill="#0072BD"/>
<path d="M186.8,300.0 L186.8,460.4" stroke="#D95319" stroke-width="12.5" fill="none" stroke-linejoin="round" />
<path d="M187.0,330.1 L187.0,332.1 L187.0,334.0 L186.9,336.0 L186.9,338.0 L187.0,340.0 L187.0,342.0 L187.0,344.0 L187.0,346.0 L187.0,348.0 L187.0,350.0 L187.1,352.0 L187.1,354.0 L187.1,356.0 L187.2,358.0 L187.2,360.0 L187.2,362.0 L187.3,364.0 L187.3,366.0 L187.4,368.0 L187.5,370.0 L187.5,372.0 L187.6,374.0 L187.7,376.0 L187.7,378.0 L187.8,380.0 L187.9,382.0 L188.0,384.0 L188.1,386.0 L188.2,388.0 L188.3,390.0 L188.4,392.0 L188.5,394.0 L188.6,396.0 L188.7,398.0 L188.9,400.0 L189.0,402.0 L189.1,404.0 L189.3,406.0 L189.4,408.0 L189.6,410.0 L189.7,412.0 L189.9,414.0 L190.0,416.0 L190.2,418.0 L190.4,420.0 L190.6,422.0 L190.7,423.9 L190.9,425.9 L191.1,427.9 L191.3,429.9 L191.5,431.9 L191.7,433.9 L191.9,435.9 L192.2,437.9 L192.4,439.9 L192.6,441.9 L192.9,443.8 L193.1,445.8 L193.3,447.8 L193.6,449.8 L193.9,451.8 L194.1,453.7 L194.4,455.7 L194.7,457.7 L194.9,459.7 L195.2,461.6 L195.5,463.6 L195.8,465.6 L196.1,467.5 L196.4,469.5 L196.7,471.5 L197.1,473.4 L197.4,475.4 L197.7,477.3 L198.1,479.3 L198.4,481.2 L198.8,483.2 L199.1,485.1 L199.5,487.1 L199.8,489.1 L200.2,491.0 L200.6,493.0 L201.0,495.0 L201.4,497.0 L201.8,498.9 L202.2,500.9 L202.6,503.0 L203.0,505.0 L203.5,507.0 L203.9,509.1 L204.3,511.1 L204.8,513.2 L205.2,515.3 L205.7,517.4 L206.3,519.4 L207.0,521.3 L207.9,523.0 L209.0,524.6 L210.4,525.9 L211.8,527.0 L213.4,527.7 L214.9,528.0 L216.4,527.8 L217.7,527.2 L219.0,526.2 L220.1,524.9 L221.3,523.4 L222.3,521.7 L223.3,519.9 L224.3,518.1 L225.3,516.2 L226.3,514.3 L227.2,512.4 L228.1,510.5 L229.0,508.6 L229.9,506.8 L230.7,504.9 L231.5,503.0 L232.4,501.1 L233.2,499.3 L234.0,497.4 L234.7,495.5 L235.5,493.6 L236.2,491.7 L237.0,489.9 L237.7,488.0 L238.4,486.1 L239.1,484.2 L239.8,482.4 L240.5,480.5 L241.1,478.6 L241.8,476.7 L242.4,474.8 L243.1,473.0 L243.7,471.1 L244.3,469.2 L245.0,467.3 L245.6,465.4 L246.2,463.5 L246.8,461.7 L247.4,459.8 L248.0,457.9 L248.6,456.0 L249.2,454.1 L249.8,452.2 L250.4,450.3 L250.9,448.4 L251.5,446.5 L252.1,444.6 L252.7,442.7 L253.3,440.8 L253.9,438.9 L254.5,437.0 L255.1,435.1 L255.6,433.1 L256.2,431.2 L256.8,429.3 L257.4,427.4 L258.0,425.5 L258.6,423.6 L259.2,421.7 L259.8,419.8 L260.4,417.8 L261.0,415.9 L261.6,414.0 L262.2,412.1 L262.8,410.2 L263.5,408.3 L264.1,406.4 L264.7,404.5 L265.3,402.6 L266.0,400.7 L266.6,398.8 L267.3,396.9 L267.9,395.0 L268.6,393.1 L269.2,391.2 L269.9,389.3 L270.5,387.4 L271.2,385.5 L271.9,383.6 L272.6,381.7 L273.3,379.9 L274.0,378.0 L274.7,376.1 L275.4,374.2 L276.1,372.4 L276.8,370.5 L277.6,368.6 L278.3,366.8 L279.0,364.9 L279.8,363.1 L280.5,361.2 L281.3,359.4 L282.1,357.5 L282.9,355.7 L283.6,353.9 L284.4,352.0 L285.2,350.2 L286.0,348.3 L286.8,346.5 L287.6,344.7 L288.4,342.9 L289.3,341.0 L290.1,339.2 L290.9,337.4 L291.7,335.6 L292.6,333.8 L293.4,332.0 L294.3,330.2 L295.1,328.3 L296.0,326.5 L296.9,324.7 L297.7,322.9 L298.6,321.1 L299.5,319.3 L300.4,317.5 L301.3,315.7 L302.1,313.9 L303.0,312.1 L303.9,310.4 L304.9,308.6 L305.8,306.8 L306.7,305.0 L307.6,303.2 L308.6,301.5 L309.6,299.7 L310.6,298.0 L311.6,296.3 L312.6,294.6 L313.7,292.9 L314.8,291.2 L315.9,289.6 L317.1,288.0 L318.3,286.4 L319.6,284.9 L320.9,283.3 L322.2,281.8 L323.6,280.4 L325.0,278.9 L326.5,277.5 L328.0,276.2 L329.5,274.9 L331.1,273.6 L332.8,272.4 L334.4,271.3 L336.1,270.2 L337.8,269.1 L339.6,268.2 L341.4,267.2 L343.2,266.4 L345.0,265.6 L346.9,264.9 L348.7,264.3 L350.6,263.7 L352.5,263.3 L354.5,262.9 L356.4,262.5 L358.3,262.3 L360.3,262.2 L362.3,262.1 L364.3,262.0 L366.2,262.1 L368.2,262.2 L370.2,262.3 L372.2,262.5 L374.2,262.8 L376.2,263.1 L378.2,263.4 L380.2,263.8 L382.2,264.2 L384.2,264.7 L386.1,265.1 L388.1,265.6 L390.1,266.2 L392.0,266.7 L393.9,267.3 L395.8,267.8 L397.8,268.4 L399.7,269.1 L401.6,269.7 L403.5,270.3 L405.4,270.9 L407.2,271.6 L409.1,272.3 L411.0,272.9 L412.9,273.6 L414.8,274.2 L416.6,274.9 L418.5,275.6 L420.4,276.2 L422.3,276.9 L424.2,277.5 L426.1,278.2 L428.0,278.8 L429.9,279.4 L431.8,280.0 L433.7,280.6 L435.6,281.2 L437.5,281.8 L439.4,282.4 L441.3,283.0 L443.2,283.6 L445.1,284.1 L447.1,284.7 L449.0,285.2 L450.9,285.8 L452.8,286.3 L454.8,286.8 L456.7,287.3 L458.6,287.8 L460.6,288.3 L462.5,288.8 L464.5,289.3 L466.4,289.7 L468.3,290.2 L470.3,290.7 L472.2,291.1 L474.2,291.5 L476.2,291.9 L478.1,292.4 L480.1,292.8 L482.0,293.1 L484.0,293.5 L486.0,293.9 L487.9,294.3 L489.9,294.6 L491.9,294.9 L493.8,295.3 L495.8,295.6 L497.8,295.9 L499.8,296.2 L501.7,296.5 L503.7,296.8 L505.7,297.0 L507.7,297.3 L509.7,297.5 L511.6,297.8 L513.6,298.0 L515.6,298.2 L517.6,298.4 L519.6,298.6 L521.6,298.8 L523.6,299.0 L525.5,299.2 L527.5,299.4 L529.5,299.6 L531.5,299.7 L533.5,299.9 L535.5,300.0 L537.5,300.2 L539.5,300.3 L541.5,300.5 L543.5,300.6 L545.5,300.7 L547.5,300.8 L549.5,301.0 L551.5,301.1 L553.5,301.2 L555.5,301.3 L557.5,301.4 L559.5,301.5 L561.5,301.6 L563.5,301.7 L565.5,301.8 L567.5,301.9 L569.5,302.0 L571.5,302.1 L573.5,302.1 L575.5,302.2 L577.5,302.3 L579.5,302.4 L581.5,302.5 L583.5,302.5 L585.5,302.6 L587.5,302.7 L589.5,302.8 L591.5,302.8 L593.5,302.9 L595.5,303.0 L597.5,303.0 L599.5,303.1 L601.5,303.2 L603.5,303.2 L605.5,303.3 L607.5,303.4 L609.5,303.4 L611.5,303.5 L613.5,303.5 L615.5,303.6 L617.5,303.6 L619.5,303.7 L621.5,303.8 L623.5,303.8 L625.5,303.9 L627.5,303.9 L629.5,303.9 L631.5,304.0 L633.5,304.0 L635.5,304.1 L637.5,304.1 L639.5,304.2 L641.5,304.2 L643.5,304.2 L645.5,304.3 L647.5,304.3 L649.5,304.4 L651.5,304.4 L653.5,304.4 L655.5,304.5 L657.5,304.5 L659.5,304.5 L661.5,304.6 L663.5,304.6 L665.5,304.6 L667.5,304.6 L669.5,304.7 L671.5,304.7 L673.5,304.7 L675.5,304.7 L677.5,304.8 L679.5,304.8 L681.5,304.8 L683.5,304.8 L685.5,304.9 L687.5,304.9 L689.5,304.9 L691.5,304.9 L693.4,304.9 L695.4,305.0 L697.4,305.0 L699.4,305.0 L701.4,305.0 L703.4,305.0 L705.4,305.0 L707.4,305.1 L709.4,305.1 L711.4,305.1 L713.4,305.1 L715.4,305.1 L717.4,305.1 L719.4,305.1 L721.4,305.1 L723.4,305.2 L725.4,305.2 L727.4,305.2 L729.4,305.2 L731.4,305.2 L733.4,305.2 L735.4,305.2 L737.4,305.2 L739.4,305.2 L741.4,305.2 L743.4,305.3 L745.4,305.3 L747.4,305.3 L749.4,305.3 L751.4,305.3 L753.4,305.3 L755.4,305.3 L757.4,305.3 L759.4,305.3 L761.4,305.3 L763.4,305.3 L765.4,305.3 L767.4,305.3 L769.4,305.3 L771.4,305.3 L773.4,305.3 L775.4,305.3 L777.4,305.3 L779.4,305.3 L781.4,305.3 L783.4,305.3 L785.4,305.3 L787.4,305.3 L789.4,305.3 L791.4,305.3 L793.4,305.3 L795.4,305.3 L797.4,305.3 L799.4,305.3 L801.4,305.3 L803.4,305.3 L805.4,305.3 L807.4,305.3 L809.4,305.3 L811.4,305.3 L813.4,305.3 L815.4,305.3 L817.4,305.3 L819.4,305.3 L821.4,305.3 L823.4,305.3 L825.4,305.3 L827.4,305.3 L829.4,305.3 L831.4,305.3 L833.4,305.3 L835.4,305.3 L837.4,305.3 L839.4,305.3 L841.4,305.3 L843.4,305.3 L845.4,305.3 L847.4,305.3 L849.4,305.3 L851.4,305.3 L853.4,305.3 L855.4,305.3 L857.4,305.3 L859.4,305.3 L861.4,305.3 L863.4,305.3 L865.4,305.3 L867.4,305.3 L869.4,305.3 L871.4,305.3 L873.4,305.3 L875.4,305.3 L877.4,305.3 L879.4,305.3 L881.4,305.3 L883.4,305.3 L885.4,305.3 L887.4,305.2 L889.4,305.2 L891.4,305.2 L893.4,305.2 L895.4,305.2 L897.4,305.2 L899.4,305.2 L901.4,305.2 L903.4,305.2 L905.4,305.2 L907.4,305.2 L909.4,305.2 L911.4,305.2 L913.4,305.2 L915.4,305.2 L917.4,305.2 L919.4,305.2 L921.4,305.2 L923.4,305.2 L925.4,305.2 L927.4,305.2 L929.4,305.2 L931.4,305.2 L933.4,305.2 L935.4,305.2 L937.4,305.2 L939.4,305.2 L941.4,305.2 L943.4,305.2 L945.4,305.2 L947.4,305.2 L949.4,305.2 L951.4,305.2 L953.4,305.2 L955.4,305.3 L957.4,305.3 L959.4,305.3 L961.4,305.3 L963.4,305.3 L965.4,305.3 L967.4,305.3 L969.4,305.3 L971.4,305.3 L973.4,305.3 L975.4,305.3 L977.4,305.3 L979.4,305.3 L981.4,305.3 L983.4,305.3 L985.4,305.3 L987.4,305.4 L989.4,305.4 L991.4,305.4 L993.4,305.4 L995.4,305.4 L997.4,305.4 L999.4,305.4 L1000.0,305.4" stroke="#D95319" stroke-width="12.5" fill="none" stroke-linejoin="round" />
<path d="M186.9,309.8 L187.5,311.7 L188.1,313.5 L188.7,315.4 L189.4,317.4 L190.1,319.3 L190.9,321.2 L191.7,323.1 L192.5,325.0 L193.4,326.9 L194.4,328.7 L195.4,330.5 L196.5,332.3 L197.6,333.9 L198.8,335.5 L200.1,337.0 L201.5,338.4 L203.0,339.7 L204.5,341.0 L206.0,342.2 L207.7,343.2 L209.3,344.2 L211.1,345.2 L212.8,346.0 L214.6,346.8 L216.5,347.5 L218.3,348.1 L220.2,348.7 L222.1,349.2 L224.0,349.6 L225.9,349.9 L227.9,350.2 L229.8,350.5 L231.8,350.6 L233.7,350.8 L235.7,350.8 L237.7,350.8 L239.7,350.8 L241.7,350.7 L243.7,350.6 L245.7,350.4 L247.7,350.2 L249.7,349.9 L251.7,349.7 L253.7,349.3 L255.7,349.0 L257.7,348.6 L259.7,348.2 L261.7,347.8 L263.7,347.4 L265.7,346.9 L267.7,346.4 L269.7,345.9 L271.6,345.4 L273.6,344.9 L275.6,344.4 L277.5,343.9 L279.5,343.3 L281.4,342.8 L283.3,342.2 L285.3,341.7 L287.2,341.1 L289.1,340.6 L291.0,340.0 L292.9,339.4 L294.8,338.8 L296.7,338.3 L298.6,337.7 L300.5,337.1 L302.4,336.5 L304.3,335.9 L306.2,335.3 L308.0,334.7 L309.9,334.0 L311.8,333.4 L313.7,332.8 L315.5,332.2 L317.4,331.5 L319.3,330.9 L321.2,330.3 L323.1,329.6 L324.9,329.0 L326.8,328.4 L328.7,327.7 L330.6,327.1 L332.5,326.4 L334.4,325.8 L336.3,325.1 L338.2,324.5 L340.1,323.8 L342.0,323.2 L343.9,322.5 L345.8,321.8 L347.7,321.2 L349.6,320.5 L351.5,319.9 L353.4,319.2 L355.3,318.6 L357.2,317.9 L359.1,317.3 L361.0,316.6 L362.9,316.0 L364.8,315.4 L366.7,314.7 L368.6,314.1 L370.5,313.4 L372.4,312.8 L374.3,312.2 L376.2,311.6 L378.1,310.9 L380.1,310.3 L382.0,309.7 L383.9,309.1 L385.8,308.5 L387.7,307.9 L389.6,307.3 L391.5,306.8 L393.4,306.2 L395.4,305.6 L397.3,305.1 L399.2,304.5 L401.1,304.0 L403.1,303.5 L405.0,303.0 L406.9,302.5 L408.8,302.0 L410.8,301.6 L412.7,301.1 L414.7,300.7 L416.6,300.3 L418.6,299.9 L420.5,299.5 L422.5,299.1 L424.4,298.8 L426.4,298.4 L428.4,298.1 L430.3,297.8 L432.3,297.5 L434.3,297.3 L436.3,297.0 L438.2,296.8 L440.2,296.6 L442.2,296.4 L444.2,296.2 L446.2,296.0 L448.2,295.9 L450.2,295.7 L452.2,295.6 L454.2,295.4 L456.2,295.3 L458.2,295.2 L460.2,295.1 L462.2,295.0 L464.2,295.0 L466.2,294.9 L468.2,294.8 L470.2,294.8 L472.2,294.7 L474.3,294.7 L476.3,294.6 L478.3,294.6 L480.3,294.6 L482.3,294.5 L484.3,294.5 L486.3,294.5 L488.3,294.5 L490.3,294.4 L492.3,294.4 L494.3,294.4 L496.3,294.4 L498.3,294.4 L500.3,294.4 L502.3,294.4 L504.3,294.4 L506.3,294.5 L508.3,294.5 L510.3,294.5 L512.3,294.6 L514.3,294.6 L516.3,294.6 L518.2,294.7 L520.2,294.7 L522.2,294.8 L524.2,294.9 L526.2,294.9 L528.2,295.0 L530.2,295.1 L532.2,295.2 L534.2,295.3 L536.2,295.4 L538.2,295.5 L540.2,295.6 L542.2,295.7 L544.2,295.9 L546.2,296.0 L548.2,296.1 L550.2,296.3 L552.2,296.4 L554.2,296.5 L556.2,296.7 L558.1,296.8 L560.1,297.0 L562.1,297.1 L564.1,297.3 L566.1,297.4 L568.1,297.6 L570.1,297.7 L572.1,297.9 L574.1,298.0 L576.1,298.2 L578.1,298.3 L580.1,298.5 L582.1,298.6 L584.1,298.8 L586.1,298.9 L588.1,299.0 L590.1,299.2 L592.1,299.3 L594.1,299.4 L596.1,299.6 L598.1,299.7 L600.1,299.8 L602.1,299.9 L604.1,300.1 L606.1,300.2 L608.1,300.3 L610.1,300.4 L612.1,300.5 L614.0,300.7 L616.0,300.8 L618.0,300.9 L620.0,301.0 L622.0,301.1 L624.0,301.2 L626.0,301.3 L628.0,301.4 L630.0,301.5 L632.0,301.6 L634.0,301.7 L636.0,301.8 L638.0,301.9 L640.0,302.0 L642.0,302.1 L644.0,302.2 L646.0,302.3 L648.0,302.3 L650.0,302.4 L652.0,302.5 L654.0,302.6 L656.0,302.7 L658.0,302.7 L660.0,302.8 L662.0,302.9 L664.0,303.0 L666.0,303.0 L668.0,303.1 L670.0,303.2 L672.0,303.2 L674.0,303.3 L676.0,303.4 L678.0,303.4 L680.0,303.5 L682.0,303.6 L684.0,303.6 L686.0,303.7 L688.0,303.7 L690.0,303.8 L692.0,303.8 L694.0,303.9 L696.0,303.9 L698.0,304.0 L700.0,304.0 L702.0,304.1 L704.0,304.1 L706.0,304.2 L708.0,304.2 L710.0,304.3 L712.0,304.3 L714.0,304.3 L716.0,304.4 L718.0,304.4 L720.0,304.5 L722.0,304.5 L724.0,304.5 L726.0,304.6 L728.0,304.6 L730.0,304.6 L732.0,304.7 L734.0,304.7 L736.0,304.7 L738.0,304.8 L740.0,304.8 L742.0,304.8 L744.0,304.8 L746.0,304.9 L748.0,304.9 L750.0,304.9 L752.0,304.9 L754.0,304.9 L756.0,305.0 L758.0,305.0 L759.9,305.0 L761.9,305.0 L763.9,305.0 L765.9,305.1 L767.9,305.1 L769.9,305.1 L771.9,305.1 L773.9,305.1 L775.9,305.1 L777.9,305.1 L779.9,305.2 L781.9,305.2 L783.9,305.2 L785.9,305.2 L787.9,305.2 L789.9,305.2 L791.9,305.2 L793.9,305.2 L795.9,305.2 L797.9,305.2 L799.9,305.2 L801.9,305.2 L803.9,305.2 L805.9,305.2 L807.9,305.2 L809.9,305.3 L811.9,305.3 L813.9,305.3 L815.9,305.3 L817.9,305.3 L819.9,305.3 L822.0,305.3 L824.0,305.3 L826.0,305.3 L828.0,305.3 L830.0,305.3 L832.0,305.3 L834.0,305.3 L836.0,305.3 L838.0,305.3 L840.0,305.3 L842.0,305.3 L844.0,305.2 L846.0,305.2 L848.0,305.2 L850.0,305.2 L852.0,305.2 L854.0,305.2 L856.0,305.2 L858.0,305.2 L860.0,305.2 L862.0,305.2 L864.0,305.2 L866.0,305.2 L868.0,305.2 L870.0,305.2 L872.0,305.2 L874.0,305.2 L876.0,305.2 L878.0,305.2 L880.0,305.2 L882.0,305.2 L884.0,305.2 L886.0,305.2 L888.0,305.2 L890.0,305.2 L892.0,305.2 L894.0,305.2 L896.0,305.2 L898.0,305.2 L900.0,305.2 L902.0,305.1 L904.0,305.1 L906.0,305.1 L908.0,305.1 L910.0,305.1 L912.0,305.1 L914.0,305.1 L916.0,305.1 L918.0,305.1 L920.0,305.1 L922.0,305.1 L924.0,305.1 L926.0,305.1 L928.0,305.1 L930.0,305.1 L932.0,305.1 L934.0,305.1 L936.0,305.1 L938.0,305.2 L940.0,305.2 L942.0,305.2 L944.0,305.2 L946.0,305.2 L948.0,305.2 L950.0,305.2 L952.0,305.2 L954.0,305.2 L956.0,305.2 L958.0,305.2 L960.0,305.2 L962.0,305.2 L964.0,305.2 L966.0,305.3 L968.0,305.3 L970.0,305.3 L972.0,305.3 L974.0,305.3 L976.0,305.3 L978.0,305.3 L980.0,305.3 L982.0,305.4 L984.0,305.4 L986.0,305.4 L988.0,305.4 L990.0,305.4 L991.9,305.5 L993.9,305.5 L995.9,305.5 L997.9,305.5 L999.9,305.6 L1000.0,305.6" stroke="#EDB120" stroke-width="12.5" fill="none" stroke-linejoin="round" />
<path d="M186.8,311.5 L186.8,296.5 L187.6,299.5 L188.8,302.0 L190.3,303.6 L192.5,304.7 L195.5,305.7 L194.8,308.0 L196.8,308.5 L198.8,309.0 L200.8,309.4 L202.7,309.8 L204.7,310.2 L206.7,310.6 L208.6,311.0 L210.6,311.4 L212.6,311.7 L214.6,312.1 L216.6,312.4 L218.5,312.7 L220.5,313.0 L222.5,313.2 L224.5,313.5 L226.4,313.7 L228.4,314.0 L230.4,314.2 L232.4,314.4 L234.4,314.6 L236.3,314.7 L238.3,314.9 L240.3,315.0 L242.3,315.2 L244.3,315.3 L246.3,315.4 L248.3,315.5 L250.2,315.6 L252.2,315.7 L254.2,315.7 L256.2,315.8 L258.2,315.8 L260.2,315.9 L262.2,315.9 L264.1,315.9 L266.1,315.9 L268.1,315.9 L270.1,315.9 L272.1,315.9 L274.1,315.8 L276.1,315.8 L278.1,315.8 L280.1,315.7 L282.0,315.6 L284.0,315.6 L286.0,315.5 L288.0,315.4 L290.0,315.3 L292.0,315.2 L294.0,315.1 L296.0,315.0 L298.0,314.9 L300.0,314.8 L302.0,314.7 L303.9,314.5 L305.9,314.4 L307.9,314.3 L309.9,314.1 L311.9,314.0 L313.9,313.8 L315.9,313.7 L317.9,313.5 L319.9,313.3 L321.9,313.2 L323.9,313.0 L325.9,312.8 L327.9,312.6 L329.9,312.5 L331.8,312.3 L333.8,312.1 L335.8,311.9 L337.8,311.7 L339.8,311.5 L341.8,311.4 L343.8,311.2 L345.8,311.0 L347.8,310.8 L349.8,310.6 L351.8,310.4 L353.8,310.2 L355.8,310.0 L357.8,309.8 L359.8,309.6 L361.8,309.4 L363.8,309.2 L365.8,309.0 L367.7,308.8 L369.7,308.6 L371.7,308.4 L373.7,308.2 L375.7,308.0 L377.7,307.8 L379.7,307.7 L381.7,307.5 L383.7,307.3 L385.7,307.1 L387.7,306.9 L389.7,306.7 L391.7,306.6 L393.7,306.4 L395.7,306.2 L397.7,306.1 L399.7,305.9 L401.7,305.8 L403.7,305.6 L405.7,305.4 L407.7,305.3 L409.7,305.2 L411.7,305.0 L413.7,304.9 L415.7,304.8 L417.7,304.6 L419.7,304.5 L421.7,304.4 L423.7,304.3 L425.6,304.2 L427.6,304.0 L429.6,303.9 L431.6,303.8 L433.6,303.7 L435.6,303.6 L437.6,303.5 L439.6,303.4 L441.6,303.4 L443.6,303.3 L445.6,303.2 L447.6,303.1 L449.6,303.0 L451.6,303.0 L453.6,302.9 L455.6,302.8 L457.6,302.8 L459.6,302.7 L461.6,302.6 L463.6,302.6 L465.6,302.5 L467.6,302.5 L469.6,302.4 L471.6,302.4 L473.6,302.3 L475.6,302.3 L477.6,302.3 L479.6,302.2 L481.6,302.2 L483.6,302.2 L485.6,302.1 L487.6,302.1 L489.6,302.1 L491.6,302.0 L493.6,302.0 L495.6,302.0 L497.6,302.0 L499.6,302.0 L501.6,302.0 L503.6,301.9 L505.6,301.9 L507.6,301.9 L509.6,301.9 L511.6,301.9 L513.6,301.9 L515.6,301.9 L517.6,301.9 L519.6,301.9 L521.6,301.9 L523.6,301.9 L525.6,301.9 L527.6,301.9 L529.6,301.9 L531.6,301.9 L533.6,302.0 L535.6,302.0 L537.6,302.0 L539.6,302.0 L541.6,302.0 L543.6,302.0 L545.6,302.0 L547.6,302.1 L549.6,302.1 L551.6,302.1 L553.6,302.1 L555.6,302.1 L557.6,302.2 L559.6,302.2 L561.6,302.2 L563.6,302.2 L565.6,302.3 L567.6,302.3 L569.6,302.3 L571.6,302.3 L573.6,302.4 L575.6,302.4 L577.6,302.4 L579.6,302.5 L581.6,302.5 L583.6,302.5 L585.6,302.5 L587.6,302.6 L589.6,302.6 L591.6,302.6 L593.6,302.7 L595.6,302.7 L597.6,302.7 L599.6,302.8 L601.6,302.8 L603.6,302.8 L605.6,302.8 L607.6,302.9 L609.6,302.9 L611.6,302.9 L613.6,303.0 L615.6,303.0 L617.6,303.0 L619.6,303.0 L621.6,303.1 L623.6,303.1 L625.6,303.1 L627.6,303.1 L629.6,303.2 L631.6,303.2 L633.6,303.2 L635.6,303.2 L637.6,303.3 L639.6,303.3 L641.6,303.3 L643.6,303.3 L645.6,303.4 L647.6,303.4 L649.6,303.4 L651.6,303.4 L653.6,303.5 L655.6,303.5 L657.5,303.5 L659.5,303.5 L661.5,303.6 L663.5,303.6 L665.5,303.6 L667.5,303.6 L669.5,303.6 L671.5,303.7 L673.5,303.7 L675.5,303.7 L677.5,303.7 L679.5,303.8 L681.5,303.8 L683.5,303.8 L685.5,303.8 L687.5,303.8 L689.5,303.9 L691.5,303.9 L693.5,303.9 L695.5,303.9 L697.5,303.9 L699.5,303.9 L701.5,304.0 L703.5,304.0 L705.5,304.0 L707.5,304.0 L709.5,304.0 L711.5,304.1 L713.5,304.1 L715.5,304.1 L717.5,304.1 L719.5,304.1 L721.5,304.1 L723.5,304.2 L725.5,304.2 L727.5,304.2 L729.5,304.2 L731.5,304.2 L733.5,304.2 L735.5,304.3 L737.5,304.3 L739.5,304.3 L741.5,304.3 L743.5,304.3 L745.5,304.3 L747.5,304.3 L749.5,304.4 L751.5,304.4 L753.5,304.4 L755.5,304.4 L757.5,304.4 L759.5,304.4 L761.5,304.4 L763.5,304.5 L765.5,304.5 L767.5,304.5 L769.5,304.5 L771.5,304.5 L773.5,304.5 L775.5,304.5 L777.5,304.5 L779.5,304.6 L781.5,304.6 L783.5,304.6 L785.5,304.6 L787.5,304.6 L789.5,304.6 L791.5,304.6 L793.5,304.6 L795.5,304.7 L797.5,304.7 L799.5,304.7 L801.5,304.7 L803.5,304.7 L805.5,304.7 L807.5,304.7 L809.5,304.7 L811.5,304.7 L813.5,304.7 L815.5,304.8 L817.5,304.8 L819.5,304.8 L821.5,304.8 L823.5,304.8 L825.5,304.8 L827.5,304.8 L829.5,304.8 L831.5,304.8 L833.5,304.8 L835.5,304.8 L837.5,304.9 L839.5,304.9 L841.5,304.9 L843.5,304.9 L845.5,304.9 L847.5,304.9 L849.5,304.9 L851.5,304.9 L853.5,304.9 L855.5,304.9 L857.5,304.9 L859.5,304.9 L861.5,304.9 L863.5,304.9 L865.5,305.0 L867.5,305.0 L869.5,305.0 L871.5,305.0 L873.5,305.0 L875.5,305.0 L877.5,305.0 L879.5,305.0 L881.5,305.0 L883.5,305.0 L885.5,305.0 L887.5,305.0 L889.5,305.0 L891.5,305.0 L893.5,305.0 L895.5,305.0 L897.5,305.0 L899.5,305.1 L901.5,305.1 L903.5,305.1 L905.5,305.1 L907.5,305.1 L909.5,305.1 L911.5,305.1 L913.5,305.1 L915.5,305.1 L917.5,305.1 L919.5,305.1 L921.5,305.1 L923.5,305.1 L925.5,305.1 L927.5,305.1 L929.5,305.1 L931.5,305.1 L933.5,305.1 L935.5,305.1 L937.5,305.1 L939.5,305.1 L941.5,305.1 L943.5,305.1 L945.5,305.1 L947.5,305.1 L949.5,305.2 L951.5,305.2 L953.5,305.2 L955.5,305.2 L957.5,305.2 L959.5,305.2 L961.5,305.2 L963.5,305.2 L965.5,305.2 L967.5,305.2 L969.5,305.2 L971.5,305.2 L973.5,305.2 L975.5,305.2 L977.5,305.2 L979.5,305.2 L981.5,305.2 L983.5,305.2 L985.5,305.2 L987.5,305.2 L989.5,305.2 L991.5,305.2 L993.5,305.2 L995.5,305.2 L997.5,305.2 L999.5,305.2 L1001.5,305.2 L1003.5,305.2 L1005.5,305.2 L1007.5,305.2 L1009.5,305.2 L1011.5,305.2 L1013.5,305.2 L1015.5,305.2 L1017.5,305.2 L1019.5,305.2 L1021.5,305.2 L1023.5,305.2 L1025.5,305.2 L1027.5,305.2 L1029.5,305.2 L1031.5,305.2 L1033.5,305.2 L1035.5,305.2 L1037.5,305.2 L1039.5,305.2 L1041.5,305.2 L1043.5,305.2 L1045.5,305.2 L1047.5,305.2 L1049.5,305.2 L1051.5,305.2 L1053.5,305.3 L1055.5,305.3 L1057.5,305.3 L1059.5,305.3 L1061.5,305.3 L1063.5,305.3 L1065.5,305.3 L1067.5,305.3 L1069.5,305.3 L1071.5,305.3 L1073.5,305.3 L1075.5,305.3 L1077.5,305.3 L1079.5,305.3 L1081.5,305.3 L1083.5,305.3 L1085.5,305.3 L1087.5,305.3 L1089.5,305.3 L1091.5,305.3 L1093.5,305.3 L1095.5,305.3 L1097.5,305.3 L1099.5,305.3 L1101.5,305.3 L1103.5,305.3 L1105.5,305.3 L1107.5,305.3 L1109.5,305.3 L1111.5,305.3 L1113.5,305.3 L1115.5,305.3 L1117.5,305.3 L1119.5,305.3 L1121.5,305.3 L1123.5,305.3 L1125.5,305.3 L1127.5,305.3 L1129.5,305.3 L1131.5,305.3 L1133.5,305.3 L1135.5,305.3 L1137.5,305.3 L1139.5,305.3 L1141.5,305.3 L1143.5,305.3 L1145.5,305.3 L1147.5,305.3 L1149.5,305.3 L1151.5,305.3 L1153.5,305.3 L1155.5,305.3 L1157.5,305.3 L1159.5,305.3 L1161.5,305.3 L1163.5,305.3 L1165.5,305.3 L1167.5,305.3 L1169.5,305.3 L1171.5,305.3 L1173.5,305.3 L1175.5,305.3 L1177.5,305.3 L1179.5,305.3 L1181.5,305.3 L1183.5,305.3 L1185.5,305.3 L1187.5,305.3 L1189.5,305.3 L1191.5,305.3 L1193.5,305.3 L1195.5,305.3 L1197.5,305.3 L1199.5,305.3 L1201.5,305.3 L1203.5,305.3 L1205.5,305.3 L1207.5,305.3 L1209.5,305.3 L1211.5,305.3 L1213.5,305.3 L1215.5,305.3 L1217.5,305.3 L1219.5,305.3 L1221.5,305.3 L1223.5,305.3 L1225.5,305.3 L1227.5,305.3 L1229.5,305.3 L1231.5,305.3 L1233.5,305.3 L1235.5,305.3 L1237.5,305.3 L1239.5,305.3 L1241.5,305.3 L1243.5,305.3 L1245.5,305.3 L1247.5,305.3 L1249.5,305.3 L1251.5,305.3 L1253.5,305.3 L1255.5,305.3 L1257.5,305.3 L1259.5,305.3 L1261.5,305.3 L1263.5,305.3 L1265.5,305.3 L1267.5,305.3 L1269.5,305.3 L1271.5,305.3 L1273.5,305.3 L1275.5,305.3 L1277.5,305.3 L1279.5,305.3 L1281.5,305.3 L1283.5,305.3 L1285.5,305.3 L1287.5,305.3 L1289.5,305.3 L1291.5,305.3 L1293.5,305.2 L1295.5,305.2 L1297.5,305.2 L1299.5,305.2 L1301.5,305.2 L1303.5,305.2 L1305.5,305.2 L1307.5,305.2 L1309.5,305.2 L1311.5,305.2 L1313.5,305.2 L1315.5,305.2 L1317.5,305.2 L1319.5,305.2 L1321.5,305.2 L1323.5,305.2 L1325.5,305.2 L1327.5,305.2 L1329.5,305.2 L1331.5,305.2 L1333.5,305.2 L1335.5,305.2 L1337.5,305.2 L1339.5,305.2 L1341.5,305.2 L1343.5,305.2 L1345.5,305.2 L1347.5,305.2 L1349.5,305.2 L1351.5,305.2 L1353.5,305.2 L1355.5,305.2 L1357.5,305.2 L1359.5,305.2 L1361.5,305.2 L1363.5,305.2 L1365.5,305.2 L1367.5,305.2 L1369.5,305.2 L1371.5,305.2 L1373.5,305.2 L1375.5,305.2 L1377.5,305.2 L1379.5,305.2 L1381.5,305.2 L1383.5,305.2 L1385.5,305.2 L1387.5,305.2 L1389.5,305.2 L1391.5,305.2 L1393.5,305.2 L1395.5,305.2 L1397.5,305.2 L1399.5,305.2 L1401.5,305.2 L1403.5,305.2 L1405.5,305.2 L1407.5,305.2 L1409.5,305.2 L1411.5,305.2 L1413.5,305.2 L1415.5,305.2 L1417.5,305.2 L1419.5,305.2 L1421.5,305.2 L1423.5,305.2 L1425.5,305.2 L1427.5,305.2 L1429.5,305.2 L1431.5,305.2 L1433.5,305.2 L1435.5,305.2 L1437.5,305.2 L1439.5,305.2 L1441.5,305.2 L1443.5,305.2 L1445.5,305.2 L1447.5,305.2 L1449.5,305.2 L1451.5,305.2 L1453.5,305.2 L1455.5,305.2 L1457.5,305.2 L1459.5,305.2 L1461.5,305.2 L1463.5,305.2 L1465.5,305.2 L1467.5,305.2 L1469.5,305.2 L1471.5,305.2 L1473.5,305.2 L1475.5,305.2 L1477.5,305.2 L1479.5,305.2 L1481.5,305.2 L1483.5,305.2 L1485.5,305.2 L1487.5,305.2 L1489.5,305.2 L1491.5,305.2 L1493.5,305.2 L1495.5,305.2 L1497.5,305.2 L1499.5,305.2 L1501.5,305.2 L1503.5,305.2 L1505.5,305.2 L1507.5,305.2 L1509.5,305.2 L1511.5,305.2 L1513.5,305.2 L1515.5,305.2 L1517.5,305.2 L1519.5,305.2 L1521.5,305.2 L1523.5,305.2 L1525.5,305.2 L1527.5,305.2 L1529.5,305.2 L1531.5,305.2 L1533.5,305.2 L1535.5,305.2 L1537.5,305.2 L1539.5,305.2 L1541.5,305.2 L1543.5,305.2 L1545.5,305.2 L1547.5,305.2 L1549.5,305.2 L1551.5,305.2 L1553.5,305.2 L1555.5,305.2 L1557.5,305.1 L1559.5,305.1 L1561.5,305.1 L1563.5,305.1 L1565.5,305.1 L1567.5,305.1 L1569.5,305.1 L1571.5,305.1 L1573.5,305.1 L1575.5,305.1 L1577.5,305.1 L1579.5,305.1 L1581.5,305.1 L1583.5,305.1 L1585.5,305.1 L1587.5,305.1 L1589.5,305.1 L1591.5,305.1 L1593.5,305.1 L1595.5,305.1 L1597.5,305.1 L1599.5,305.1 L1601.5,305.1 L1603.5,305.1 L1605.5,305.1 L1607.5,305.1 L1609.5,305.1 L1611.5,305.1 L1613.5,305.1 L1615.5,305.1 L1617.5,305.1 L1619.5,305.1 L1621.5,305.1 L1623.5,305.1 L1625.5,305.1 L1627.5,305.1 L1629.5,305.1 L1631.5,305.1 L1633.5,305.1 L1635.5,305.1 L1637.5,305.1 L1639.5,305.1 L1641.5,305.1 L1643.5,305.2 L1645.5,305.2 L1647.5,305.2 L1649.5,305.2 L1651.5,305.2 L1653.5,305.2 L1655.5,305.2 L1657.5,305.2 L1659.5,305.2 L1661.5,305.2 L1663.5,305.2 L1665.5,305.2 L1667.5,305.2 L1669.5,305.2 L1671.5,305.2 L1673.5,305.2 L1675.5,305.2 L1677.5,305.2 L1679.5,305.2 L1681.5,305.2 L1683.5,305.2 L1685.5,305.2 L1687.5,305.2 L1689.5,305.2 L1691.5,305.2 L1693.5,305.2 L1695.5,305.2 L1697.5,305.2 L1699.5,305.2 L1701.5,305.2 L1703.5,305.2 L1705.5,305.2 L1707.5,305.2 L1709.5,305.2 L1711.5,305.2 L1713.5,305.2 L1715.5,305.2 L1717.5,305.2 L1719.5,305.2 L1721.5,305.2 L1723.5,305.2 L1725.5,305.2 L1727.5,305.2 L1729.5,305.2 L1731.5,305.2 L1733.5,305.2 L1735.5,305.2 L1737.5,305.2 L1739.5,305.2 L1741.5,305.2 L1743.5,305.2 L1745.5,305.2 L1747.5,305.2 L1749.5,305.2 L1751.5,305.2 L1753.5,305.2 L1755.5,305.2 L1757.5,305.2 L1759.5,305.2 L1761.5,305.2 L1763.5,305.2 L1765.5,305.2 L1767.5,305.2 L1769.5,305.2 L1771.5,305.2 L1773.5,305.2 L1775.5,305.2 L1777.5,305.2 L1779.5,305.2 L1781.5,305.2 L1783.5,305.2 L1785.5,305.2 L1787.5,305.2 L1789.5,305.2 L1791.5,305.2 L1793.5,305.2 L1795.5,305.2 L1797.5,305.2 L1799.5,305.3 L1801.5,305.3 L1803.5,305.3 L1805.5,305.3 L1807.5,305.3 L1809.5,305.3 L1811.5,305.3 L1813.5,305.3 L1815.5,305.3 L1817.5,305.3 L1819.5,305.3 L1821.5,305.3 L1823.5,305.3 L1825.5,305.3 L1827.5,305.3 L1829.5,305.3 L1831.5,305.3 L1833.5,305.3 L1835.5,305.3 L1836.0,305.3" stroke="#7E2F8E" stroke-width="12.5" fill="none" stroke-linejoin="round" />
<text transform="translate(436.2,1400) scale(1,1.014)" font-size="69.3" text-anchor="middle" fill="#262626" font-family="Liberation Sans, Arial, sans-serif" font-weight="bold">5</text>
<text transform="translate(715.8,1400) scale(1,1.014)" font-size="69.3" text-anchor="middle" fill="#262626" font-family="Liberation Sans, Arial, sans-serif" font-weight="bold">10</text>
<text transform="translate(995.5,1400) scale(1,1.014)" font-size="69.3" text-anchor="middle" fill="#262626" font-family="Liberation Sans, Arial, sans-serif" font-weight="bold">15</text>
<text transform="translate(1275.1,1400) scale(1,1.014)" font-size="69.3" text-anchor="middle" fill="#262626" font-family="Liberation Sans, Arial, sans-serif" font-weight="bold">20</text>
<text transform="translate(1554.7,1400) scale(1,1.014)" font-size="69.3" text-anchor="middle" fill="#262626" font-family="Liberation Sans, Arial, sans-serif" font-weight="bold">25</text>
<text transform="translate(1834.3,1400) scale(1,1.014)" font-size="69.3" text-anchor="middle" fill="#262626" font-family="Liberation Sans, Arial, sans-serif" font-weight="bold">30</text>
<text transform="translate(165.3,130.7) scale(1,1.014)" font-size="69.3" text-anchor="end" fill="#262626" font-family="Liberation Sans, Arial, sans-serif" font-weight="bold">1</text>
<text transform="translate(165.3,331.5) scale(1,1.014)" font-size="69.3" text-anchor="end" fill="#262626" font-family="Liberation Sans, Arial, sans-serif" font-weight="bold">0</text>
<text transform="translate(165.3,532.4) scale(1,1.014)" font-size="69.3" text-anchor="end" fill="#262626" font-family="Liberation Sans, Arial, sans-serif" font-weight="bold">-1</text>
<text transform="translate(165.3,733.2) scale(1,1.014)" font-size="69.3" text-anchor="end" fill="#262626" font-family="Liberation Sans, Arial, sans-serif" font-weight="bold">-2</text>
<text transform="translate(165.3,934.0) scale(1,1.014)" font-size="69.3" text-anchor="end" fill="#262626" font-family="Liberation Sans, Arial, sans-serif" font-weight="bold">-3</text>
<text transform="translate(165.3,1134.9) scale(1,1.014)" font-size="69.3" text-anchor="end" fill="#262626" font-family="Liberation Sans, Arial, sans-serif" font-weight="bold">-4</text>
<text transform="translate(165.3,1335.7) scale(1,1.014)" font-size="69.3" text-anchor="end" fill="#262626" font-family="Liberation Sans, Arial, sans-serif" font-weight="bold">-5</text>
<text transform="translate(1010,1495.8) scale(1,1.015)" font-size="74.8" letter-spacing="0.88" text-anchor="middle" fill="#262626" font-family="Liberation Sans, Arial, sans-serif" font-weight="bold">Time (second)</text>
<text transform="translate(75.8,708) rotate(-90) scale(1,1.03)" font-size="74.8" letter-spacing="1.0" text-anchor="middle" fill="#262626" font-family="Liberation Sans, Arial, sans-serif" font-weight="bold">Delta F1 (Hz)</text>
<text transform="translate(190.7,95.8) scale(1,0.905)" font-size="84" fill="#262626" font-family="Liberation Sans, Arial, sans-serif">×</text>
<text transform="translate(245.6,87.7) scale(1,1.014)" font-size="69.3" fill="#262626" font-family="Liberation Sans, Arial, sans-serif" font-weight="bold">10</text>
<text transform="translate(324.3,55.3) scale(0.97,1.03)" font-size="57.5" fill="#262626" font-family="Liberation Sans, Arial, sans-serif" font-weight="bold">-5</text>
<text x="973" y="1603" font-size="84" text-anchor="middle" fill="#000" font-family="Liberation Serif, serif"><tspan>(</tspan><tspan font-weight="bold">a</tspan><tspan>)</tspan></text>
<rect x="1371.5" y="544.5" width="441" height="324" fill="#fff" stroke="#262626" stroke-width="1" shape-rendering="crispEdges"/>
<rect x="1379" y="582" width="88" height="13" fill="#0072BD" shape-rendering="crispEdges"/>
<text transform="translate(1472.6,611.9) scale(1,1.05)" font-size="62" letter-spacing="0.3" fill="#000" font-family="Liberation Sans, Arial, sans-serif" font-weight="bold">PIDF</text>
<rect x="1379" y="661" width="88" height="13" fill="#D95319" shape-rendering="crispEdges"/>
<text transform="translate(1472.6,690.7) scale(1,1.05)" font-size="62" letter-spacing="0.3" fill="#000" font-family="Liberation Sans, Arial, sans-serif" font-weight="bold">ULC-PIDF</text>
<rect x="1379" y="740" width="88" height="13" fill="#EDB120" shape-rendering="crispEdges"/>
<text transform="translate(1472.6,770.5) scale(1,1.05)" font-size="62" letter-spacing="0.3" fill="#000" font-family="Liberation Sans, Arial, sans-serif" font-weight="bold">FPIDF</text>
<rect x="1379" y="819" width="88" height="13" fill="#7E2F8E" shape-rendering="crispEdges"/>
<text transform="translate(1472.6,849.8) scale(1,1.05)" font-size="62" letter-spacing="0.3" fill="#000" font-family="Liberation Sans, Arial, sans-serif" font-weight="bold">ULC-FPIDF</text>
</svg>
</body></html>
